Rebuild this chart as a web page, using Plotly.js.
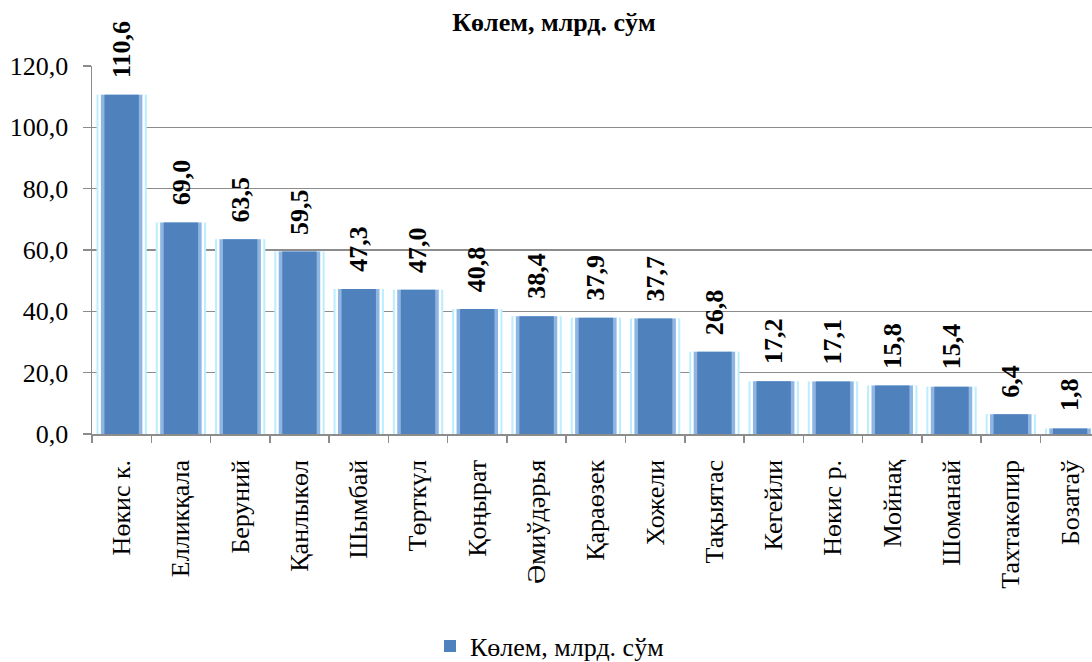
<!DOCTYPE html>
<html>
<head>
<meta charset="utf-8">
<script src="https://cdn.plot.ly/plotly-3.0.1.min.js"></script>
<style>html,body{margin:0;padding:0;background:#fff;}#chart{width:1092px;height:662px;}</style>
</head>
<body>
<div id="chart"></div>
<script>
const categories = ["Нөкис к.", "Елликқала", "Беруний", "Қанлыкөл", "Шымбай", "Төрткүл", "Қоңырат", "Әмиўдәрья", "Қараөзек", "Хожели", "Тақыятас", "Кегейли", "Нөкис р.", "Мойнақ", "Шоманай", "Тахтакөпир", "Бозатаў"];
const values = [110.6, 69.0, 63.5, 59.5, 47.3, 47.0, 40.8, 38.4, 37.9, 37.7, 26.8, 17.2, 17.1, 15.8, 15.4, 6.4, 1.8];
const seriesName = "Көлем, млрд. сўм";
const labels = values.map(v => v.toFixed(1).replace('.', ','));

const serif = "Liberation Serif";

function layer(width, color, extra) {
  return Object.assign({
    type: 'bar', x: categories, y: values, name: seriesName,
    width: width, marker: {color: color, line: {width: 0}},
    showlegend: false, hoverinfo: 'skip'
  }, extra || {});
}

const traces = [
  layer(0.85, '#BDEEFF'),
  layer(0.78, '#FFFFFF'),
  layer(0.70, '#8FB6E3'),
  layer(0.58, '#4F81BD', {showlegend: true, marker: {color: '#4F81BD', line: {width: 0}}})
];

const annotations = categories.map((c, i) => ({
  x: c, y: values[i], xref: 'x', yref: 'y',
  text: '<b>' + labels[i] + '</b>', textangle: -90,
  showarrow: false, xanchor: 'center', yanchor: 'bottom', yshift: 15,
  font: {family: serif, size: 26, color: '#000'}
}));

const layout = {
  width: 1092, height: 662,
  margin: {l: 92, r: 0, t: 66, b: 228},
  paper_bgcolor: '#fff', plot_bgcolor: '#fff',
  barmode: 'overlay',
  separators: ', ',
  font: {family: serif, size: 26, color: '#000'},
  title: {text: '<b>' + seriesName + '</b>', font: {family: serif, size: 26, color: '#000'},
          x: 554/1092, xanchor: 'center', y: 1 - 22/662, yref: 'container', yanchor: 'middle',
          automargin: false},
  xaxis: {
    type: 'category', range: [-0.5, 16.37], automargin: false,
    tickangle: -90, tickfont: {family: serif, size: 26},
    ticks: 'outside', tickson: 'boundaries', ticklen: 7, tickcolor: '#8C8C8C', tickwidth: 1.5,
    ticklabelstandoff: 14,
    showline: true, linecolor: '#8C8C8C', linewidth: 1.5,
    showgrid: false
  },
  yaxis: {
    range: [0, 120], dtick: 20, tickformat: '.1f', automargin: false,
    tickfont: {family: serif, size: 26},
    ticks: 'outside', ticklen: 8, tickcolor: '#8C8C8C', tickwidth: 1.5,
    ticklabelstandoff: 9,
    showline: true, linecolor: '#8C8C8C', linewidth: 1.5,
    showgrid: true, gridcolor: '#8C8C8C', gridwidth: 1.5,
    zeroline: false
  },
  annotations: annotations,
  showlegend: true,
  legend: {orientation: 'h', x: 0.338, xanchor: 'left', y: 1 - 646/662, yref: 'container', yanchor: 'middle',
           itemwidth: 30, tracegroupgap: 0, font: {family: serif, size: 26}}
};

Plotly.newPlot('chart', traces, layout, {displayModeBar: false, staticPlot: true});
</script>
</body>
</html>
